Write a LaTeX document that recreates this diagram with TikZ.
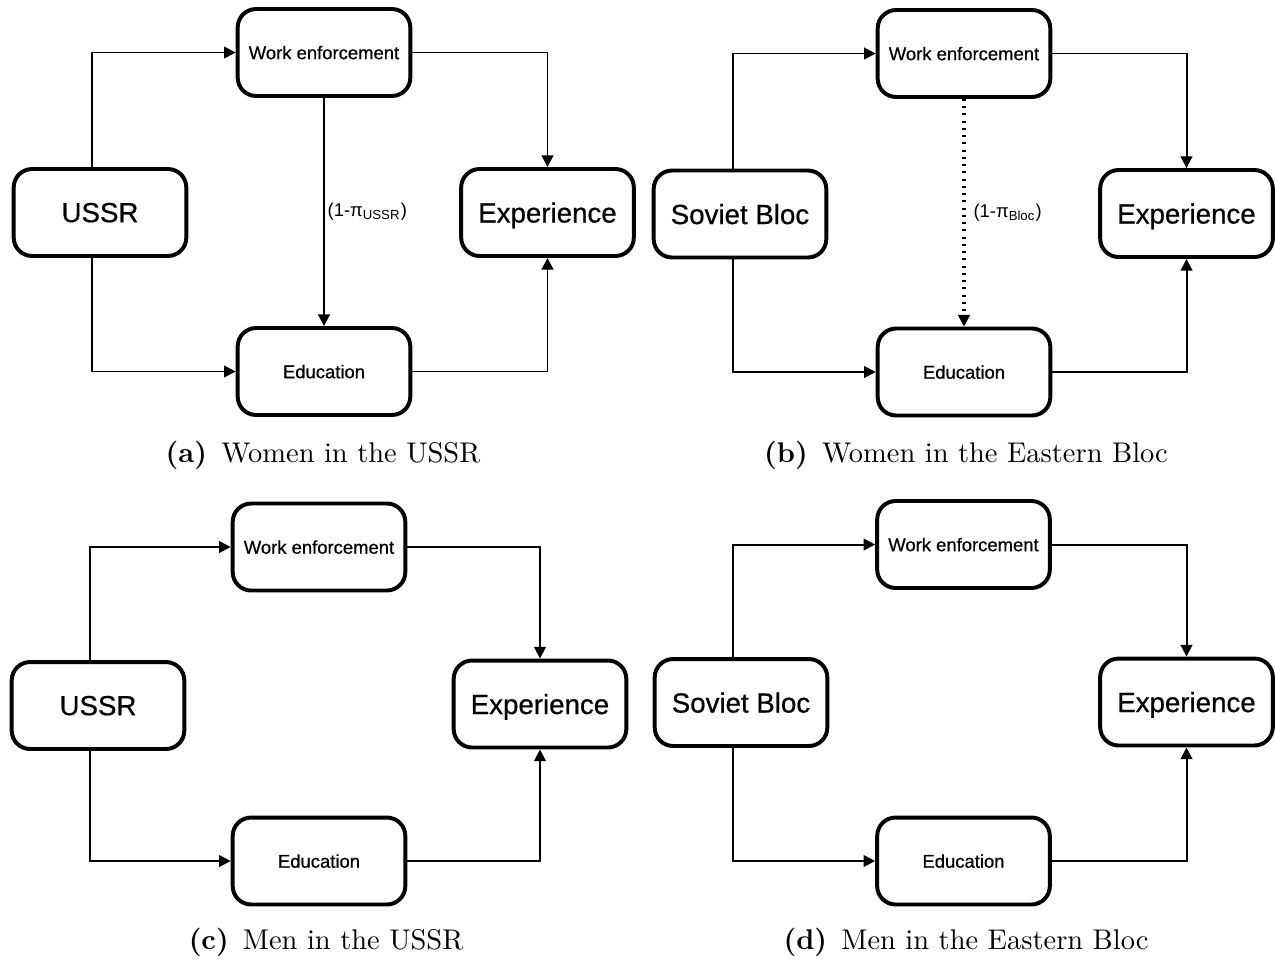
\documentclass[tikz,border=0pt]{standalone}
\usepackage{fontspec}
\setsansfont{Liberation Sans}
\newfontfamily\boxfont[FakeBold=0.6]{Liberation Sans}
\usetikzlibrary{arrows.meta}

\begin{document}
\begin{tikzpicture}[x=0.3794pt,y=-0.3794pt,
    box/.style={draw,line width=1.5pt,rounded corners=7pt,minimum width=65.5pt,minimum height=33pt,
      text depth=0pt,font=\boxfont\fontsize{7}{8}\selectfont},
    bigbox/.style={box,font=\boxfont\fontsize{10.5}{12}\selectfont},
    flow/.style={line width=0.75pt,-{Triangle[length=4.4pt,width=4.4pt]}},
    weight/.style={right,inner sep=1pt,font=\sffamily\fontsize{7}{8}\selectfont},
    caption/.style={anchor=base,font=\fontsize{10.8}{13}\selectfont}]
  \useasboundingbox (0,0) rectangle (1275,960);
  % (a) women, USSR
  \node[bigbox] (ussrA) at (100,212.5) {USSR};
  \node[box] (workA) at (324,52.5) {Work enforcement};
  \node[box] (eduA) at (324,371.5) {Education};
  \node[bigbox] (expA) at (547.5,212.5) {Experience};
  \draw[flow] (ussrA.north) ++(-8,0) |- (workA.west);
  \draw[flow] (ussrA.south) ++(-8,0) |- (eduA.west);
  \draw[flow] (workA.east) -| (expA.north);
  \draw[flow] (eduA.east) -| (expA.south);
  \draw[flow] (workA.south) -- node[weight] {(1-π\textsubscript{USSR})} (eduA.north);
  \node[caption] (capA) at (323,462) {\textbf{(a)}\enspace Women in the USSR};
  % (b) women, Eastern Bloc
  \node[bigbox] (blocB) at (740,214) {Soviet Bloc};
  \node[box] (workB) at (964,53.5) {Work enforcement};
  \node[box] (eduB) at (964,372) {Education};
  \node[bigbox] (expB) at (1186.5,213.5) {Experience};
  \draw[flow] (blocB.north) ++(-7,0) |- (workB.west);
  \draw[flow] (blocB.south) ++(-7,0) |- (eduB.west);
  \draw[flow] (workB.east) -| (expB.north);
  \draw[flow] (eduB.east) -| (expB.south);
  \draw[flow,dotted,line width=1.2pt] (workB.south) -- node[weight,xshift=2pt] {(1-π\textsubscript{Bloc})} (eduB.north);
  \node[caption] (capB) at (966,462) {\textbf{(b)}\enspace Women in the Eastern Bloc};
  % (c) men, USSR
  \node[bigbox] (ussrC) at (98,705.5) {USSR};
  \node[box] (workC) at (319,547) {Work enforcement};
  \node[box] (eduC) at (319,861) {Education};
  \node[bigbox] (expC) at (540,704) {Experience};
  \draw[flow] (ussrC.north) ++(-8,0) |- (workC.west);
  \draw[flow] (ussrC.south) ++(-8,0) |- (eduC.west);
  \draw[flow] (workC.east) -| (expC.north);
  \draw[flow] (eduC.east) -| (expC.south);
  \node[caption] (capC) at (326,949) {\textbf{(c)}\enspace Men in the USSR};
  % (d) men, Eastern Bloc
  \node[bigbox] (blocD) at (741,702.5) {Soviet Bloc};
  \node[box] (workD) at (963.5,544.5) {Work enforcement};
  \node[box] (eduD) at (963.5,861) {Education};
  \node[bigbox] (expD) at (1186.5,702) {Experience};
  \draw[flow] (blocD.north) ++(-8,0) |- (workD.west);
  \draw[flow] (blocD.south) ++(-8,0) |- (eduD.west);
  \draw[flow] (workD.east) -| (expD.north);
  \draw[flow] (eduD.east) -| (expD.south);
  \node[caption] (capD) at (966,949) {\textbf{(d)}\enspace Men in the Eastern Bloc};
\end{tikzpicture}
\end{document}
